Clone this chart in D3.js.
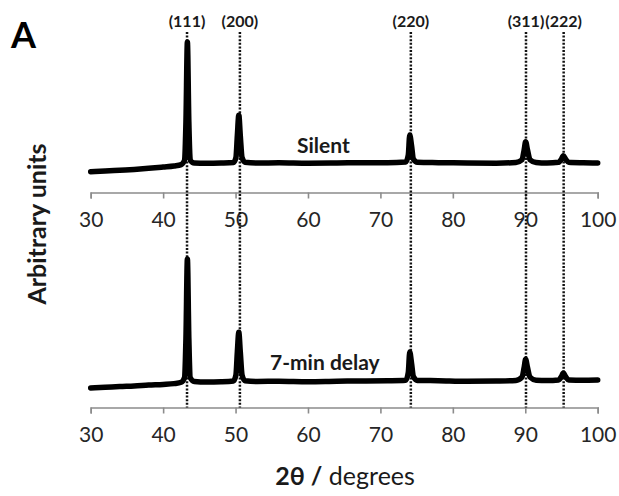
<!DOCTYPE html>
<html>
<head>
<meta charset="utf-8">
<script src="https://cdn.jsdelivr.net/npm/d3@7"></script>
<style>
  body { margin: 0; background: #fff; }
  svg { font-family: Lato, "Open Sans", sans-serif; }
</style>
</head>
<body>
<script>
// tick values and reflection positions
var tickValues = [30, 40, 50, 60, 70, 80, 90, 100];
var peakLabels = ["(111)", "(200)", "(220)", "(311)", "(222)"];
var peakPositions = [43.3, 50.6, 74.2, 90.1, 95.3];

// traces: [2theta, intensity (arb.)]
var silentData = [
  [30, 2.5], [32, 3], [34, 3.6], [36, 4.2], [38, 5], [40, 6], [41.5, 6.8], [42.5, 7.8],
  [42.95, 11], [43.15, 40], [43.35, 100], [43.55, 40], [43.75, 11], [44.3, 9],
  [46, 8.8], [48, 9], [49.7, 9.4], [50.05, 13], [50.25, 30], [50.45, 45], [50.65, 30],
  [50.9, 13], [51.3, 9.6], [53, 9], [56, 9.2], [60, 8.8], [64, 9], [68, 9.3], [71, 9.2],
  [73.5, 9.8], [73.85, 15], [74.05, 30], [74.3, 22], [74.55, 12], [75.1, 9.6],
  [78, 9.3], [82, 9], [86, 8.9], [88.7, 9.4], [89.55, 11.5], [89.85, 19], [90.05, 25],
  [90.3, 19], [90.65, 11.5], [91.5, 9.4], [93, 9], [94.6, 9.6], [95.0, 12], [95.25, 14.5],
  [95.55, 12], [96, 9.6], [98, 9.2], [100, 9]
];

var delayData = [
  [30, 2.3], [32, 2.8], [34, 3.4], [36, 3.8], [38, 4.5], [40, 5], [41.5, 5.6], [42.5, 6.6],
  [42.95, 10], [43.15, 40], [43.35, 100], [43.55, 40], [43.75, 10], [44.3, 7.2],
  [46, 6.8], [48, 7], [49.7, 7.6], [50.05, 12], [50.25, 30], [50.45, 44.5], [50.65, 30],
  [50.9, 12], [51.3, 7.8], [53, 7.2], [56, 7.4], [60, 7], [64, 7.4], [68, 7.6], [71, 7.8],
  [73.5, 8.2], [73.85, 14], [74.05, 29.5], [74.3, 21], [74.55, 11], [75.1, 8],
  [78, 7.8], [82, 7.4], [86, 7.6], [88.7, 8], [89.55, 10.5], [89.85, 18], [90.05, 24],
  [90.3, 18], [90.65, 10.5], [91.5, 8.2], [93, 8], [94.6, 8.4], [95.0, 11], [95.25, 13.6],
  [95.55, 11], [96, 8.4], [98, 8.2], [100, 8.3]
];

var width = 619, height = 496;

var svg = d3.select("body").append("svg")
  .attr("width", width)
  .attr("height", height);

var x = d3.scaleLinear().domain([30, 100]).range([90.7, 597.7]);

// one intensity scale per panel
var yTop = d3.scaleLinear().domain([0, 100]).range([175, 42]);
var yBot = d3.scaleLinear().domain([0, 100]).range([391, 259]);

var axisTopY = 192.5;
var axisBotY = 407.5;

function drawAxis(yPos) {
  var g = svg.append("g")
    .attr("transform", "translate(0," + yPos + ")")
    .call(d3.axisBottom(x).tickValues(tickValues).tickSize(6).tickSizeOuter(6).tickPadding(14));
  g.select(".domain").attr("stroke", "#8c8c8c").attr("stroke-width", 1.6);
  g.selectAll(".tick line").attr("stroke", "#8c8c8c").attr("stroke-width", 1.6);
  g.selectAll(".tick text")
    .attr("fill", "#262626")
    .style("font-family", "Lato, 'Open Sans', sans-serif")
    .style("font-size", "21px");
  return g;
}

drawAxis(axisTopY);
drawAxis(axisBotY);

// dotted reflection lines
svg.selectAll("line.ref")
  .data(peakPositions)
  .enter().append("line")
  .attr("class", "ref")
  .attr("x1", function(d) { return x(d); })
  .attr("x2", function(d) { return x(d); })
  .attr("y1", 32)
  .attr("y2", axisBotY)
  .attr("stroke", "#111")
  .attr("stroke-width", 2.5)
  .attr("stroke-dasharray", "2,1.6");

svg.selectAll("text.ref")
  .data(peakPositions)
  .enter().append("text")
  .attr("class", "ref")
  .attr("x", function(d) { return x(d); })
  .attr("y", 27)
  .attr("text-anchor", "middle")
  .attr("font-weight", "bold")
  .attr("font-size", "16px")
  .attr("fill", "#1a1a1a")
  .text(function(d, i) { return peakLabels[i]; });

// traces
function drawTrace(data, y) {
  var line = d3.line()
    .x(function(d) { return x(d[0]); })
    .y(function(d) { return y(d[1]); })
    .curve(d3.curveMonotoneX);
  svg.append("path")
    .datum(data)
    .attr("d", line)
    .attr("fill", "none")
    .attr("stroke", "#000")
    .attr("stroke-width", 5.5)
    .attr("stroke-linejoin", "round")
    .attr("stroke-linecap", "round");
}

drawTrace(silentData, yTop);
drawTrace(delayData, yBot);

// trace labels
svg.append("text")
  .attr("x", 297).attr("y", 153)
  .attr("font-weight", "bold").attr("font-size", "21px").attr("fill", "#1a1a1a")
  .text("Silent");

svg.append("text")
  .attr("x", 270).attr("y", 370)
  .attr("font-weight", "bold").attr("font-size", "21px").attr("fill", "#1a1a1a")
  .text("7-min delay");

// panel letter
svg.append("text")
  .attr("x", 11).attr("y", 48)
  .attr("font-weight", "bold").attr("font-size", "36px").attr("fill", "#000")
  .text("A");

// y title
svg.append("text")
  .attr("transform", "translate(46,224) rotate(-90)")
  .attr("text-anchor", "middle")
  .attr("font-weight", "bold").attr("font-size", "25px").attr("fill", "#1a1a1a")
  .text("Arbitrary units");

// x title
var xt = svg.append("text")
  .attr("x", 345).attr("y", 485)
  .attr("text-anchor", "middle")
  .attr("font-size", "25px").attr("fill", "#1a1a1a");
xt.append("tspan").attr("font-weight", "bold").text("2θ /");
xt.append("tspan").text(" degrees");
</script>
</body>
</html>
